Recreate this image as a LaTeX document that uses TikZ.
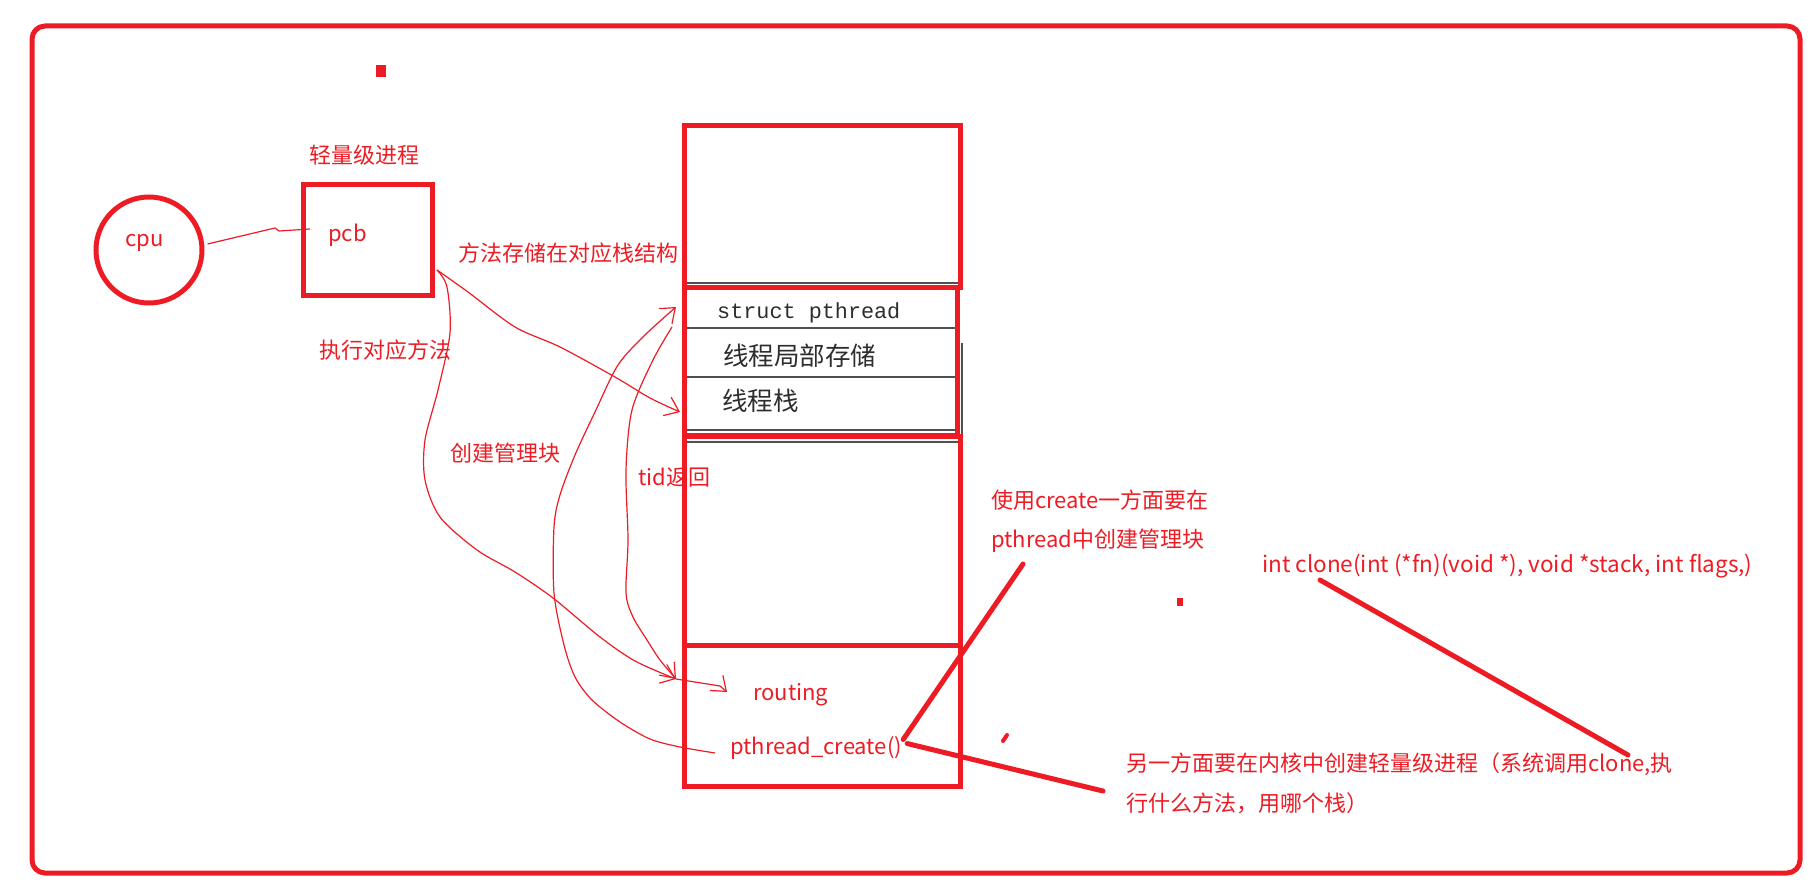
\documentclass[tikz,border=0pt]{standalone}
\usepackage{fontspec}
\setmainfont{Noto Sans CJK SC}
\newfontfamily\structmono{Liberation Mono}
\usetikzlibrary{arrows.meta}
\definecolor{pred}{RGB}{237,28,36}
\definecolor{imgtext}{RGB}{45,45,45}
\definecolor{imgline}{RGB}{80,80,80}
\begin{document}
\begin{tikzpicture}[x=1pt,y=-1pt,
  lbl/.style={text=pred, font=\fontsize{22}{26}\selectfont, inner sep=0pt, anchor=base west},
  imglbl/.style={text=imgtext, inner sep=0pt, anchor=base west},
  redbox/.style={draw=pred, line width=5pt, inner sep=0pt},
  hand/.style={draw=pred, line width=1.2pt},
  handarrow/.style={hand, -{Straight Barb[length=13pt,width=20pt]}},
  thickline/.style={draw=pred, line width=5pt, line cap=round},
  grayline/.style={draw=imgline, line width=2.6pt}
]
\useasboundingbox (0,0) rectangle (1815,888);

% outer frame
\node[redbox, rounded corners=13pt, minimum width=1768pt, minimum height=847pt] (frame) at (916,449.5) {};

% small marks
\fill[pred] (376,65) rectangle (386,77);
\fill[pred] (1177,598) rectangle (1183,606);
\draw[pred, line width=4pt, line cap=round] (1003,741) -- (1007,735);

% cpu and pcb
\node[circle, redbox, minimum size=106pt] (cpu) at (149,250) {};
\node[lbl] (cputxt) at (125,246) {cpu};
\node[redbox, minimum width=129pt, minimum height=111pt] (pcb) at (367.5,240) {};
\node[lbl] (pcbtxt) at (328,241) {pcb};
\node[lbl] (lwp) at (309,164) {轻量级进程};
\coordinate (pcbin) at (310,229);
\draw[hand] (cpu.east) ++(3,-6) coordinate (cpuout) -- (275,228) -- (279,231) -- (pcbin);

% struct pthread image (gray)
\draw[grayline] (683,283) -- (962,283);
\draw[grayline] (687,328) -- (955,328);
\draw[grayline] (687,377) -- (955,377);
\draw[grayline] (687,430) -- (955,430);
\draw[grayline] (683,442) -- (962,442);
\draw[imgline, line width=1.5pt] (962,343) -- (962,441);
\node[imglbl, font=\structmono\fontsize{21.8}{24}\selectfont] (st) at (717,318) {struct pthread};
\node[imglbl, font=\fontsize{25.5}{28}\selectfont] (tls) at (723,365) {线程局部存储};
\node[imglbl, font=\fontsize{25.5}{28}\selectfont] (tstack) at (722,410) {线程栈};

% stack boxes
\node[redbox, minimum width=276pt, minimum height=161pt] (topbox) at (822,206.5) {};
\node[redbox, minimum width=273pt, minimum height=148.5pt] (pthbox) at (820.5,361.25) {};
\node[redbox, minimum width=276pt, minimum height=209pt] (midbox) at (822,540.5) {};
\node[redbox, minimum width=276pt, minimum height=141.5pt] (botbox) at (822,715.75) {};

\node[lbl] (routing) at (753,700) {routing};
\node[lbl] (pc) at (730,754) {pthread\_create()};

% labels
\node[lbl] (store) at (458,261) {方法存储在对应栈结构};
\node[lbl] (exec) at (319,358) {执行对应方法};
\node[lbl] (mgmt) at (450,461) {创建管理块};
\node[lbl] (tid) at (638,485) {tid返回};
\node[lbl] (use1) at (991,508) {使用create一方面要在};
\node[lbl] (use2) at (991,547) {pthread中创建管理块};
\node[lbl, font=\fontsize{22.5}{26}\selectfont] (clone) at (1262,572) {int clone(int (*fn)(void *), void *stack, int flags,)};
\node[lbl] (other1) at (1126,771) {另一方面要在内核中创建轻量级进程（系统调用clone,执};
\node[lbl] (other2) at (1126,811) {行什么方法，用哪个栈）};

% hand-drawn connectors
\coordinate (pcbout) at (437,270);
\coordinate (stacktip) at (680,412);
\coordinate (merge) at (676,679);
\coordinate (tidstart) at (672,327);
\coordinate (pthtip) at (676,307);
\coordinate (pcleft) at (715,753);
\coordinate (routtip) at (727,692);

\draw[handarrow] plot[smooth, tension=0.5] coordinates {(pcbout) (468,292) (515,327) (560,347) (615,377) (650,398) (stacktip)};
\draw[handarrow] plot[smooth, tension=0.5] coordinates {(pcbout) (447,287) (450,333) (438,390) (425,440) (425,480) (440,517) (477,550) (515,572) (553,598) (600,637) (635,661) (merge)};
\draw[handarrow] plot[smooth, tension=0.5] coordinates {(tidstart) (653,360) (632,410) (626,470) (628,540) (626,593) (633,617) (647,640) (660,660) (merge)};
\draw[handarrow] (merge) -- (720,686) -- (routtip);
\draw[handarrow] plot[smooth, tension=0.5] coordinates {(pcleft) (680,747) (650,739) (620,722) (592,700) (575,677) (564,645) (554,593) (554,527) (560,495) (575,455) (595,412) (618,365) (645,335) (pthtip)};

% thick connectors
\coordinate (use1end) at (1023,564);
\coordinate (other1end) at (1103,791);
\coordinate (clonestart) at (1320,580);
\coordinate (cloneend) at (1628,755);
\draw[thickline] (pc.east) ++(1,-8) -- (use1end);
\draw[thickline] (pc.east) ++(5,-4) -- (other1end);
\draw[thickline] (clonestart) -- (cloneend);
\end{tikzpicture}
\end{document}
